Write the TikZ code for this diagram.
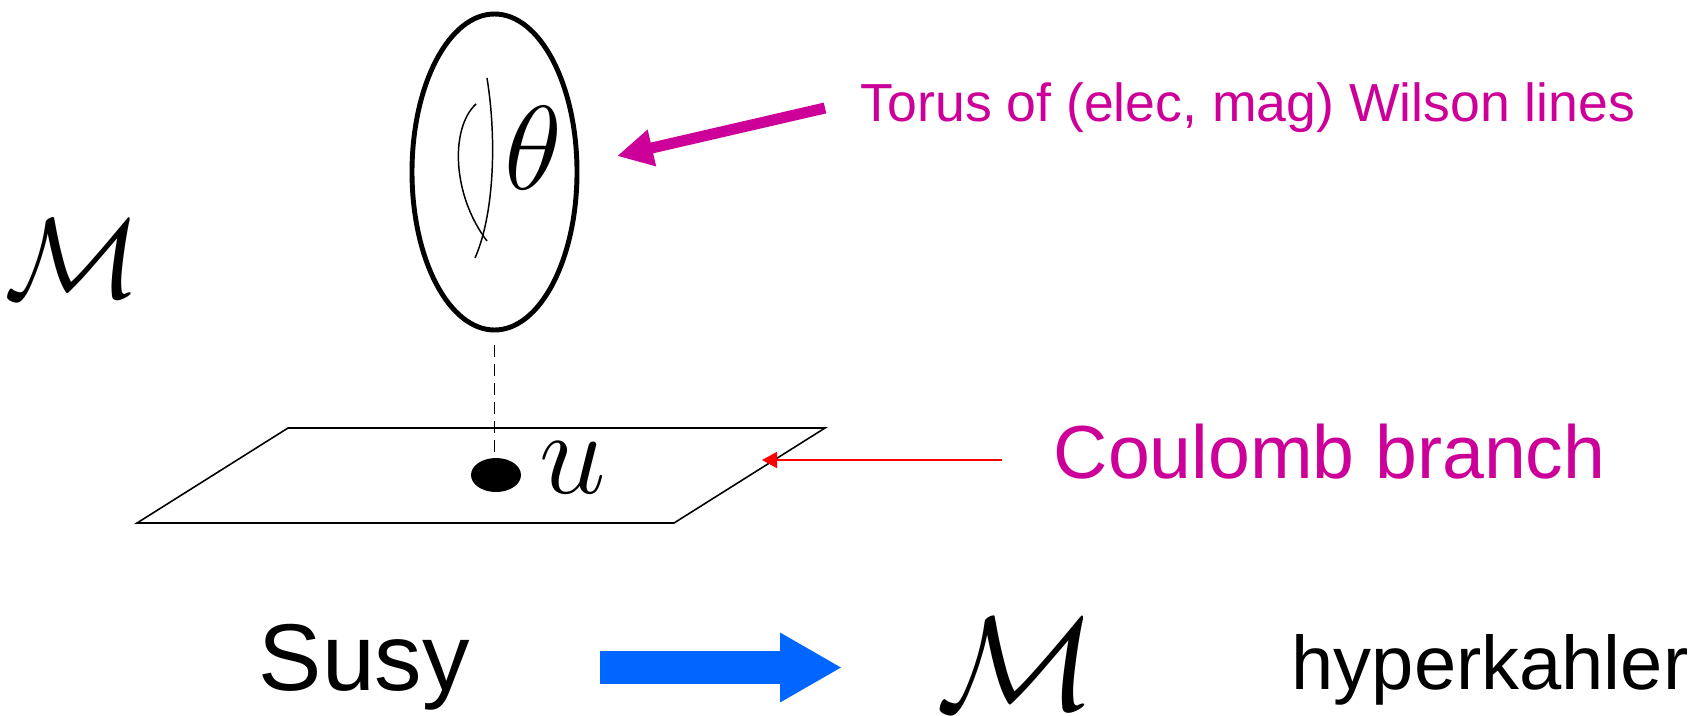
\RequirePackage{fix-cm}
\documentclass[tikz,border=0pt]{standalone}
\usepackage{fontspec}
\setmainfont{Liberation Sans}
\usetikzlibrary{arrows.meta,shapes.geometric}
\definecolor{pinkink}{RGB}{204,0,153}
\definecolor{blueink}{RGB}{0,102,255}
\tikzset{
  fibre/.style={draw,ellipse,minimum width=16.5mm,minimum height=31.6mm,inner sep=0pt,line width=1.4pt},
  cyc/.style={line width=0.42pt},
  fibreline/.style={line width=0.5pt,dash pattern=on 1.2mm off 0.7mm},
  pt/.style={fill,ellipse,minimum width=5mm,minimum height=3.4mm,inner sep=0pt},
  plane/.style={draw,line width=0.45pt},
  pinkarrow/.style={-{Triangle[length=10.2pt,width=10pt]},line width=3.13pt,pinkink},
  redarrow/.style={-{Triangle[length=4.3pt,width=4.6pt]},line width=0.48pt,red},
  bluearrow/.style={-{Triangle[length=17.6pt,width=18.5pt]},line width=9.4pt,blueink},
  mathbig/.style={inner sep=0pt,font=\fontsize{34}{40}\selectfont},
  pinksmall/.style={inner sep=0pt,anchor=base west,text=pinkink,font=\fontsize{15.25}{18}\selectfont},
  pinkbig/.style={inner sep=0pt,anchor=base west,text=pinkink,font=\fontsize{21.4}{26}\selectfont},
  word/.style={inner sep=0pt,anchor=base west,font=\fontsize{21.6}{26}\selectfont},
}

\begin{document}
\begin{tikzpicture}[x=0.1mm,y=-0.1mm]
  \useasboundingbox (0,0) rectangle (1697,715);

  % TORUS (fibre over u)
  \node[fibre] (torus) at (494.5,172) {};
  \draw[cyc] (487,78) .. controls (497,140) and (494,215) .. (475,258);
  \draw[cyc] (476,104) .. controls (450,128) and (452,195) .. (487,241);
  \node[mathbig] (theta) at (533,148) {$\theta$};

  \node[inner sep=0pt,font=\fontsize{32.3}{38}\selectfont] (mleft) at (73,259) {$\mathcal{M}$};

  % TORUS LABEL
  \node[pinksmall] (toruslabel) at (860,121) {Torus of (elec, mag) Wilson lines};
  \coordinate (torustail) at (825,108);
  \coordinate (torustip)  at (617,156);
  \draw[pinkarrow] (torustail) -- (torustip);

  % COULOMB BRANCH
  \coordinate (pa) at (137,523);
  \coordinate (pb) at (674,523);
  \coordinate (pc) at (825,428);
  \coordinate (pd) at (288,428);
  \draw[plane] (pa) -- (pb) -- (pc) -- (pd) -- cycle;
  \node[pt] (u0) at (496,475) {};
  \node[mathbig] (u) at (573,468) {$u$};
  \draw[fibreline] (494.5,345) -- (494.5,452);

  \node[pinkbig] (coulomb) at (1053,478) {Coulomb branch};
  \coordinate (redtail) at (1002,460);
  \coordinate (redtip)  at (762,460);
  \draw[redarrow] (redtail) -- (redtip);

  % SUSY => HYPERKAHLER
  \node[word,font=\fontsize{27}{32}\selectfont] (susy) at (258,690) {Susy};
  \coordinate (bluetail) at (600,667.5);
  \coordinate (bluetip)  at (842,667.5);
  \draw[bluearrow] (bluetail) -- (bluetip);
  \node[inner sep=0pt,font=\fontsize{37.8}{44}\selectfont] (mbottom) at (1016,664) {$\mathcal{M}$};
  \node[word] (hk) at (1291,689) {hyperkahler};

\end{tikzpicture}
\end{document}
